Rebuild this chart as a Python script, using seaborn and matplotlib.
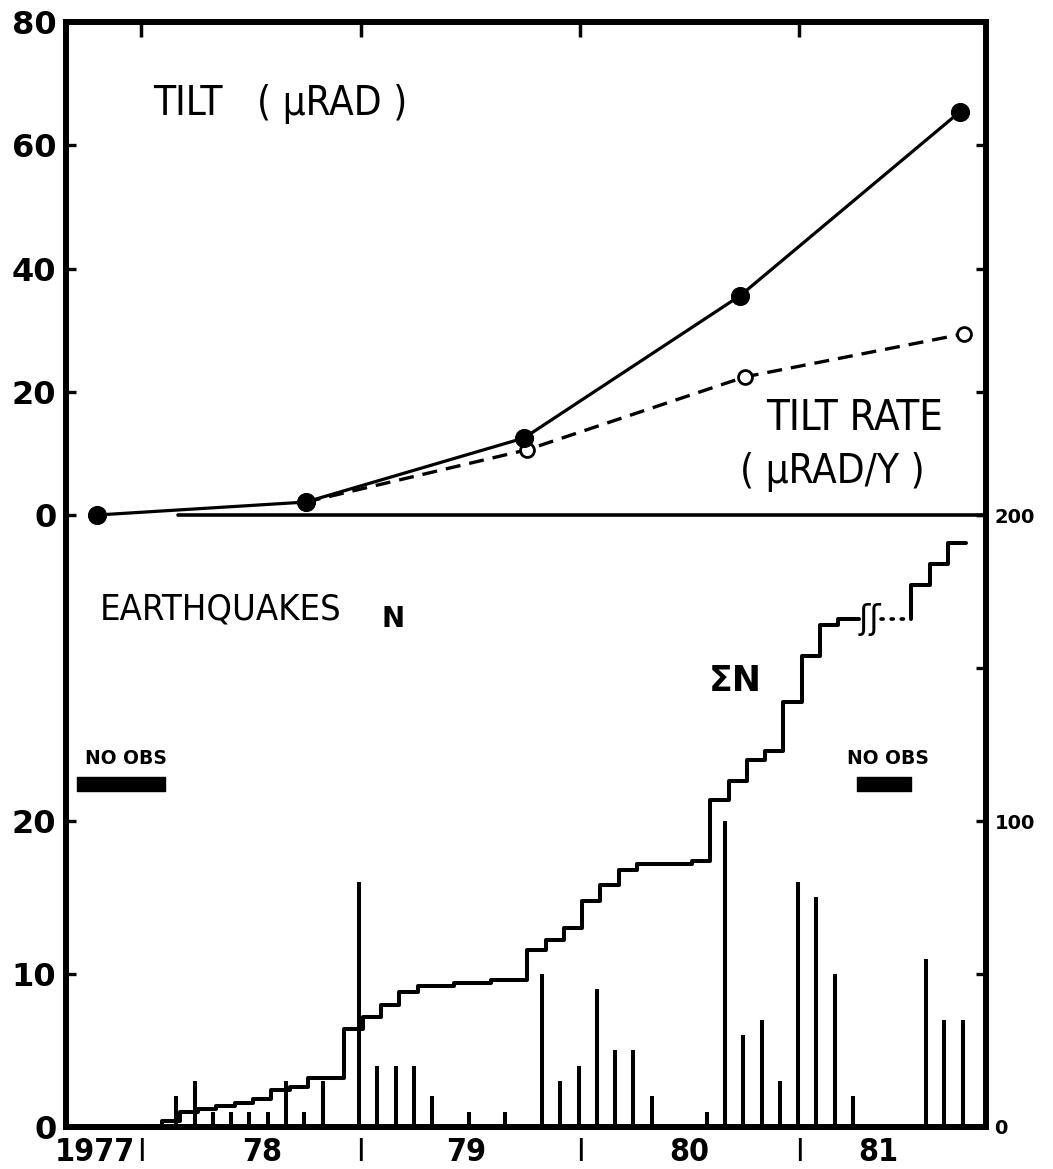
import numpy as np
import pandas as pd
import matplotlib
matplotlib.use("Agg")
import matplotlib.pyplot as plt
import seaborn as sns
from matplotlib import font_manager
from matplotlib.font_manager import FontProperties

# Tilt surveys (decimal year) and tilt in microradians
tilt_dates = [1977.80, 1978.75, 1979.745, 1980.73, 1981.73]
tilt_urad = [0.0, 2.1, 12.5, 35.6, 65.4]

# Tilt rate (microradians per year), dashed series
rate_dates = [1978.75, 1979.76, 1980.75, 1981.75]
rate_urad_yr = [2.1, 10.6, 22.4, 29.4]

# Monthly earthquake counts Jan 1978 - Sep 1981 (nan = no observation)
months = pd.period_range("1978-01", "1981-09", freq="M")
n_quakes = [0, 2, 3, 1, 1, 1, 1, 3, 1, 3,
            0, 16, 4, 4, 4, 2, 0, 1, 0, 1,
            0, 10, 3, 4, 9, 5, 5, 2, 0, 0,
            1, 20, 6, 7, 3, 16, 15, 10, 2, np.nan,
            np.nan, np.nan, 11, 7, 7]
# Cumulative number (sigma N)
cum_quakes = [0, 2, 5, 6, 7, 8, 9, 12, 13, 16,
              16, 32, 36, 40, 44, 46, 46, 47, 47, 48,
              48, 58, 61, 65, 74, 79, 84, 86, 86, 86,
              87, 107, 113, 120, 123, 139, 154, 164, 166, np.nan,
              np.nan, np.nan, 177, 184, 191]

# periods without observations (decimal years)
no_obs = [(1977.71, 1978.11), (1981.26, 1981.51)]

year_bounds = [1978, 1979, 1980, 1981]
year_labels = ["1977", "78", "79", "80", "81"]
year_label_pos = [1977.79, 1978.55, 1979.48, 1980.50, 1981.36]

# --- style ---
sns.set_style("ticks")
plt.rcParams["font.family"] = ["DejaVu Sans"]
for key in ["text.color", "axes.labelcolor", "xtick.color", "ytick.color",
            "axes.edgecolor"]:
    plt.rcParams[key] = "black"

# look for a condensed / narrow sans face for the hand-lettered labels
files = [f.fname for f in font_manager.fontManager.ttflist]
def find_face(bold):
    prefs = ["LiberationSansNarrow", "DejaVuSansCondensed", "RobotoCondensed",
             "OpenSansCondensed", "NotoSans-Condensed", "Roboto_Condensed"]
    for p in prefs:
        for fn in files:
            base = fn.split("/")[-1]
            if p in base.replace(" ", ""):
                is_bold = "Bold" in base
                if is_bold == bold and "Italic" not in base and "Oblique" not in base:
                    return fn
    return None

COND_REG = find_face(False)
COND_BOLD = find_face(True)
SHRINK = 1.0 if COND_REG else 0.86

def cond(size, bold=False):
    fn = COND_BOLD if bold else COND_REG
    if fn:
        return FontProperties(fname=fn, size=size)
    return FontProperties(family="DejaVu Sans", size=size * SHRINK,
                          weight="bold" if bold else "normal")

SPINE_W = 4.3
X0, X1 = 1977.658, 1981.85

fig = plt.figure(figsize=(10.53, 11.69), dpi=100)
ax_b = fig.add_axes([0.0627, 0.03593, 0.8737, 0.52352])
ax_c = ax_b.twinx()
ax_t = fig.add_axes([0.0627, 0.55945, 0.8737, 0.42173])
for a in (ax_b, ax_c, ax_t):
    a.patch.set_visible(False)

month_x = months.year + (months.month - 1) / 12 + 0.01
n_arr = np.array(n_quakes, dtype=float)
cum_arr = np.array(cum_quakes, dtype=float)

# ---------- top panel: tilt ----------
sns.lineplot(x=rate_dates, y=rate_urad_yr, ax=ax_t, color="black", lw=2.4,
             linestyle=(0, (4.5, 2.7)), marker="o", markersize=10,
             markerfacecolor="white", markeredgecolor="black", markeredgewidth=2,
             markevery=[1, 2, 3], errorbar=None, sort=False)
sns.lineplot(x=tilt_dates, y=tilt_urad, ax=ax_t, color="black", lw=2.3,
             marker="o", markersize=13, markerfacecolor="black",
             markeredgecolor="black", errorbar=None, sort=False, clip_on=False)

ax_t.set_xlim(X0, X1)
ax_t.set_ylim(0, 80)
ax_t.set_yticks([0, 20, 40, 60, 80])
ax_t.set_xticks(year_bounds)
ax_t.set_xlabel("")
ax_t.set_ylabel("")
ax_t.tick_params(axis="x", direction="in", length=11, width=2.5,
                 top=True, bottom=False, labeltop=False, labelbottom=False)
ax_t.tick_params(axis="y", direction="in", length=7, width=2.4,
                 left=True, right=True, labelright=False, pad=7)
for lab in ax_t.get_yticklabels():
    lab.set_fontsize(23)
    lab.set_fontweight("bold")
for side in ["left", "top", "right"]:
    ax_t.spines[side].set_linewidth(SPINE_W)
ax_t.spines["bottom"].set_visible(False)

# divider line (tilt zero), starting a little right of the axis
ax_t.axhline(0, xmin=(1978.17 - X0) / (X1 - X0), xmax=1, color="black",
             lw=2.6, clip_on=False)

ax_t.text(1978.055, 66.7, "TILT   ( μRAD )", fontproperties=cond(29),
          ha="left", va="center")
ax_t.text(1981.25, 15.8, "TILT RATE", fontproperties=cond(30),
          ha="center", va="center")
ax_t.text(1981.15, 7.0, "( μRAD/Y )", fontproperties=cond(29),
          ha="center", va="center")

# ---------- bottom panel: earthquakes ----------
ax_b.vlines(month_x + 0.067, 0, n_arr, color="black", lw=2.9)
ax_b.set_xlim(X0, X1)
ax_b.set_ylim(0, 40)
ax_b.set_yticks([0, 10, 20])
ax_b.tick_params(axis="y", direction="in", length=7, width=2.4,
                 left=True, right=False, pad=7)
for lab in ax_b.get_yticklabels():
    lab.set_fontsize(23)
    lab.set_fontweight("bold")

ax_b.set_xticks(year_bounds)
ax_b.set_xticklabels(["I"] * len(year_bounds))
ax_b.set_xticks(year_label_pos, minor=True)
ax_b.set_xticklabels(year_labels, minor=True)
ax_b.tick_params(axis="x", which="both", length=0, pad=7)
for lab in ax_b.get_xticklabels():
    lab.set_fontproperties(cond(23))
for lab in ax_b.get_xticklabels(minor=True):
    lab.set_fontproperties(cond(23, bold=True))

for side in ["left", "bottom", "right"]:
    ax_b.spines[side].set_linewidth(SPINE_W)
ax_b.spines["top"].set_visible(False)

# no observation bars and labels
for start, end in no_obs:
    ax_b.broken_barh([(start, end - start)], (21.95, 0.95), color="black")
    ax_b.text((start + end) / 2 + 0.02, 24.1, "NO OBS", fontsize=13.5,
              fontweight="bold", ha="center", va="center")

ax_b.text(1977.81, 33.8, "EARTHQUAKES", fontproperties=cond(26),
          ha="left", va="center")
ax_b.text(1979.148, 33.2, "N", fontsize=20, fontweight="bold",
          ha="center", va="center")

# cumulative step curve on right axis
valid = ~np.isnan(cum_arr)
first_gap = int(np.argmax(~valid))
last_before = cum_arr[first_gap - 1]
resume = first_gap + int(np.argmax(valid[first_gap:]))
break_start, break_end = 1981.27, 1981.37

seg1_x = list(month_x[:first_gap]) + [break_start]
seg1_y = list(cum_arr[:first_gap]) + [last_before]
ax_c.step(seg1_x, seg1_y, where="post", color="black", lw=2.9)
ax_c.plot([break_end, month_x[resume]], [last_before, last_before],
          color="black", lw=2.6, linestyle=(0, (0.6, 2.2)),
          dash_capstyle="round")
seg2_x = [month_x[resume]] + list(month_x[resume:]) + [month_x[-1] + 1 / 12]
seg2_y = [last_before] + list(cum_arr[resume:]) + [cum_arr[-1]]
ax_c.step(seg2_x, seg2_y, where="post", color="black", lw=2.9)
ax_c.text((break_start + break_end) / 2, last_before, "ʃʃ", fontsize=24,
          ha="center", va="center")
ax_c.text(1980.706, 145.8, "ΣN", fontsize=25, fontweight="bold",
          ha="center", va="center")

ax_c.set_ylim(0, 200)
ax_c.set_yticks([0, 50, 100, 150, 200])
ax_c.set_yticklabels(["0", "", "100", "", "200"])
ax_c.tick_params(axis="y", direction="in", length=7, width=2.4, pad=6,
                 labelsize=14)
for lab in ax_c.get_yticklabels():
    lab.set_fontweight("bold")
for side in ["left", "top", "bottom"]:
    ax_c.spines[side].set_visible(False)
ax_c.spines["right"].set_linewidth(SPINE_W)
ax_c.set_ylabel("")

fig.savefig("out.png", dpi=100)
